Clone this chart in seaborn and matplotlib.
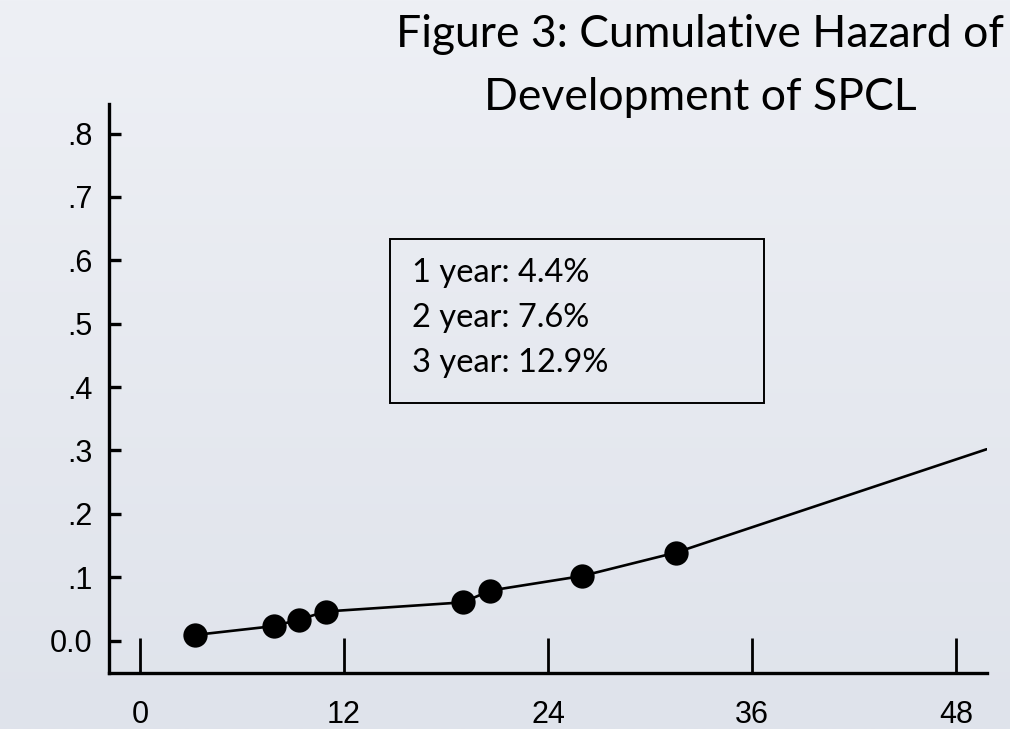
import numpy as np
import pandas as pd
import matplotlib
matplotlib.use("Agg")
import matplotlib.pyplot as plt
import seaborn as sns
from matplotlib.colors import LinearSegmentedColormap
from matplotlib.patches import Rectangle

# ---- data ----
months = [3.24, 7.88, 9.33, 10.92, 19.02, 20.59, 26.0, 31.53, 49.8]
hazard = [0.009, 0.023, 0.033, 0.046, 0.0605, 0.079, 0.102, 0.139, 0.302]
event_months = [3.24, 7.88, 9.33, 10.92, 19.02, 20.59, 26.0, 31.53]
event_hazard = [0.009, 0.023, 0.033, 0.046, 0.0605, 0.079, 0.102, 0.139]
x_ticks = [0, 12, 24, 36, 48]
x_ticklabels = ["0", "12", "24", "36", "48"]
y_ticks = [0.0, 0.1, 0.2, 0.3, 0.4, 0.5, 0.6, 0.7, 0.8]
y_ticklabels = ["0.0", ".1", ".2", ".3", ".4", ".5", ".6", ".7", ".8"]
title_lines = ["Figure 3: Cumulative Hazard of", "Development of SPCL"]
box_lines = ["1 year: 4.4%", "2 year: 7.6%", "3 year: 12.9%"]

sns.set_theme(style="white")
plt.rcParams["font.family"] = ["Liberation Sans", "DejaVu Sans"]

fig = plt.figure(figsize=(10.1, 7.29), dpi=100)

# background gradient
bg = fig.add_axes([0, 0, 1, 1], zorder=-10)
grad = np.linspace(0, 1, 256).reshape(-1, 1)
cmap = LinearSegmentedColormap.from_list("bg", ["#eef0f5", "#dfe3eb"])
bg.imshow(grad, aspect="auto", cmap=cmap, extent=[0, 1, 0, 1], origin="upper")
bg.axis("off")

ax = fig.add_axes([0.1079, 0.0768, 0.9769 - 0.1079, 0.8573 - 0.0768])
ax.patch.set_alpha(0)

line_df = pd.DataFrame({"month": months, "hazard": hazard})
pt_df = pd.DataFrame({"month": event_months, "hazard": event_hazard})
sns.lineplot(data=line_df, x="month", y="hazard", ax=ax, color="black",
             linewidth=1.9, zorder=2)
sns.scatterplot(data=pt_df, x="month", y="hazard", ax=ax, color="black",
                s=17.5 ** 2, edgecolor="black", linewidth=0, zorder=3)

ax.set_xlim(-1.82, 49.8)
ax.set_ylim(-0.051, 0.8465)
ax.set_xticks(x_ticks)
ax.set_xticklabels(x_ticklabels)
ax.set_yticks(y_ticks)
ax.set_yticklabels(y_ticklabels)
ax.set_xlabel("")
ax.set_ylabel("")

for s in ["top", "right"]:
    ax.spines[s].set_visible(False)
for s in ["left", "bottom"]:
    ax.spines[s].set_visible(True)
    ax.spines[s].set_color("black")
    ax.spines[s].set_linewidth(2.4)

ax.tick_params(axis="x", direction="in", length=25, width=2.0, color="black",
               labelsize=22, pad=19.5, labelcolor="black")
ax.tick_params(axis="y", direction="in", length=8.5, width=2.4, color="black",
               labelsize=22, pad=12, labelcolor="black")
ax.tick_params(bottom=True, left=True)

# title
for i, t in enumerate(title_lines):
    fig.text(700 / 1010, 1 - (47 + 63 * i) / 729, t, ha="center",
             va="baseline", fontsize=32, family=["Lato", "DejaVu Sans"],
             color="black")

# text box
rect = Rectangle((390 / 1010, 1 - 403.3 / 729), (764.3 - 390) / 1010,
                 (403.3 - 239) / 729, transform=fig.transFigure,
                 facecolor="none", edgecolor="black", linewidth=1.4)
fig.patches.append(rect)
for i, t in enumerate(box_lines):
    fig.text(411.7 / 1010, 1 - (273 + 45 * i) / 729, t, ha="left",
             va="center", fontsize=23.5, family=["Lato", "DejaVu Sans"],
             color="black")

fig.savefig("out.png", dpi=100)
